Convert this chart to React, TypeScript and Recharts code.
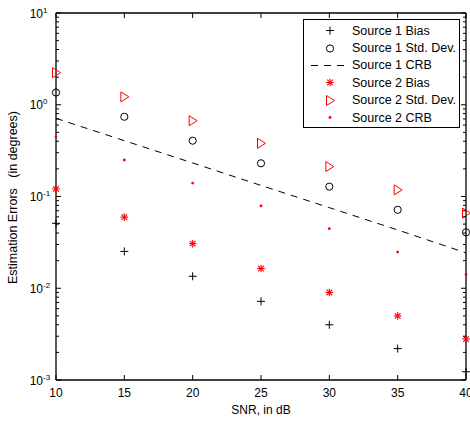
import {
  ComposedChart,
  Label,
  Legend,
  Line,
  Scatter,
  XAxis,
  YAxis,
} from "recharts";

const snr = [10, 15, 20, 25, 30, 35, 40];

// values (degrees)
const s1Bias = [0.051, 0.0252, 0.0135, 0.0072, 0.004, 0.0022, 0.00123];
const s1Std = [1.36, 0.74, 0.406, 0.23, 0.128, 0.0716, 0.0407];
const s1Crb = [0.711, 0.406, 0.232, 0.132, 0.0756, 0.0432, 0.0243];
const s2Bias = [0.121, 0.0596, 0.0306, 0.0164, 0.009, 0.005, 0.0028];
const s2Std = [2.24, 1.22, 0.67, 0.38, 0.212, 0.118, 0.066];
const s2Crb = [0.449, 0.25, 0.14, 0.079, 0.0446, 0.0248, 0.0141];

const xTicks = [10, 15, 20, 25, 30, 35, 40];
const decades = [0.001, 0.01, 0.1, 1, 10];
const yTicks = decades.flatMap((d, i) =>
  i === decades.length - 1 ? [d] : [1, 2, 3, 4, 5, 6, 7, 8, 9].map((m) => +(m * d).toPrecision(3))
);

const FONT = "'Liberation Sans', Arial, Helvetica, sans-serif";
const RED = "#ff0000";
const DASH = "7 6";

const data = snr.map((x, i) => ({
  snr: x,
  s1Bias: s1Bias[i],
  s1Std: s1Std[i],
  s1Crb: s1Crb[i],
  s2Bias: s2Bias[i],
  s2Std: s2Std[i],
  s2Crb: s2Crb[i],
}));

type Kind = "plus" | "circle" | "star" | "tri" | "dot";

function Marker({ kind, cx, cy }: { kind: Kind; cx: number; cy: number }) {
  if (kind === "plus")
    return (
      <g stroke="#000" strokeWidth={1}>
        <line x1={cx - 4} y1={cy} x2={cx + 4} y2={cy} />
        <line x1={cx} y1={cy - 4} x2={cx} y2={cy + 4} />
      </g>
    );
  if (kind === "circle")
    return <circle cx={cx} cy={cy} r={3.6} fill="none" stroke="#000" strokeWidth={1} />;
  if (kind === "star")
    return (
      <g stroke={RED} strokeWidth={1.1}>
        <line x1={cx - 3.8} y1={cy} x2={cx + 3.8} y2={cy} />
        <line x1={cx} y1={cy - 3.8} x2={cx} y2={cy + 3.8} />
        <line x1={cx - 2.8} y1={cy - 2.8} x2={cx + 2.8} y2={cy + 2.8} />
        <line x1={cx - 2.8} y1={cy + 2.8} x2={cx + 2.8} y2={cy - 2.8} />
      </g>
    );
  if (kind === "tri")
    return (
      <polygon
        points={`${cx - 3.5},${cy - 5} ${cx + 4.5},${cy} ${cx - 3.5},${cy + 5}`}
        fill="none"
        stroke={RED}
        strokeWidth={1}
      />
    );
  return <circle cx={cx} cy={cy} r={1.4} fill={RED} />;
}

const shape = (kind: Kind) => (p: any) => <Marker kind={kind} cx={p.cx} cy={p.cy} />;

function isDecade(v: number) {
  const k = Math.round(Math.log10(v));
  return Math.abs(v - Math.pow(10, k)) / v < 1e-6;
}

function LeftTick(p: any) {
  const { x, y, payload } = p;
  const v = payload.value;
  const major = isDecade(v);
  const k = Math.round(Math.log10(v));
  return (
    <g>
      <line x1={x} y1={y} x2={x + (major ? 5 : 3)} y2={y} stroke="#000" />
      {major && (
        <text fontFamily={FONT} fill="#000">
          <tspan x={x - 13} y={y + 4.5} fontSize={12} textAnchor="end">
            10
          </tspan>
          <tspan x={x - 13} y={y - 0.5} fontSize={8} textAnchor="start">
            {k}
          </tspan>
        </text>
      )}
    </g>
  );
}

function RightTick(p: any) {
  const { x, y, payload } = p;
  const major = isDecade(payload.value);
  return <line x1={x} y1={y} x2={x - (major ? 5 : 3)} y2={y} stroke="#000" />;
}

function BottomTick(p: any) {
  const { x, y, payload } = p;
  return (
    <g>
      <line x1={x} y1={y} x2={x} y2={y - 5} stroke="#000" />
      <text x={x} y={y + 17} textAnchor="middle" fontSize={12} fontFamily={FONT} fill="#000">
        {payload.value}
      </text>
    </g>
  );
}

function TopTick(p: any) {
  const { x, y } = p;
  return <line x1={x} y1={y} x2={x} y2={y + 5} stroke="#000" />;
}

const legendItems: Array<{ label: string; kind: Kind | "dash" }> = [
  { label: "Source 1 Bias", kind: "plus" },
  { label: "Source 1 Std. Dev.", kind: "circle" },
  { label: "Source 1 CRB", kind: "dash" },
  { label: "Source 2 Bias", kind: "star" },
  { label: "Source 2 Std. Dev.", kind: "tri" },
  { label: "Source 2 CRB", kind: "dot" },
];

function LegendBox() {
  return (
    <div
      style={{
        width: 157,
        height: 109,
        boxSizing: "border-box",
        border: "1px solid #000",
        background: "#fff",
        paddingTop: 2,
        fontFamily: FONT,
        fontSize: 12.5,
        color: "#000",
      }}
    >
      {legendItems.map((it) => (
        <div key={it.label} style={{ display: "flex", alignItems: "center", height: 17.4 }}>
          <svg width={48} height={17} style={{ display: "block" }}>
            {it.kind === "dash" ? (
              <line x1={7} y1={8.5} x2={46} y2={8.5} stroke="#000" strokeDasharray={DASH} />
            ) : (
              <Marker kind={it.kind} cx={26} cy={8.5} />
            )}
          </svg>
          <span style={{ whiteSpace: "nowrap" }}>{it.label}</span>
        </div>
      ))}
    </div>
  );
}

export default function App() {
  return (
    <div style={{ position: "absolute", left: 0, top: 0, background: "#fff" }}>
      <ComposedChart
        width={470}
        height={423}
        data={data}
        margin={{ top: 12, right: 0, bottom: 0, left: 0 }}
      >
        <XAxis
          xAxisId="b"
          dataKey="snr"
          type="number"
          domain={[10, 40]}
          ticks={xTicks}
          interval={0}
          height={43}
          tickLine={false}
          tickSize={0}
          tickMargin={0}
          tick={BottomTick}
          axisLine={{ stroke: "#000", strokeWidth: 1.3 }}
        >
          <Label
            content={(p: any) => (
              <text
                x={p.viewBox.x + p.viewBox.width / 2}
                y={414}
                textAnchor="middle"
                fontSize={12}
                fontFamily={FONT}
                fill="#000"
              >
                SNR, in dB
              </text>
            )}
          />
        </XAxis>
        <XAxis
          xAxisId="t"
          orientation="top"
          dataKey="snr"
          type="number"
          domain={[10, 40]}
          ticks={xTicks}
          interval={0}
          height={1}
          tickLine={false}
          tickSize={0}
          tickMargin={0}
          tick={TopTick}
          axisLine={{ stroke: "#000", strokeWidth: 1.3 }}
        />
        <YAxis
          yAxisId="l"
          type="number"
          scale="log"
          domain={[0.001, 10]}
          allowDataOverflow
          ticks={yTicks}
          interval={0}
          width={56}
          tickLine={false}
          tickSize={0}
          tickMargin={0}
          tick={LeftTick}
          axisLine={{ stroke: "#000", strokeWidth: 1.3 }}
        >
          <Label
            content={(p: any) => {
              const cy = p.viewBox.y + p.viewBox.height / 2 + 1;
              return (
                <text
                  x={17}
                  y={cy}
                  transform={`rotate(-90 17 ${cy})`}
                  textAnchor="middle"
                  fontSize={12.5}
                  fontFamily={FONT}
                  fill="#000"
                  style={{ whiteSpace: "pre" }}
                >
                  {"Estimation Errors   (in degrees)"}
                </text>
              );
            }}
          />
        </YAxis>
        <YAxis
          yAxisId="r"
          orientation="right"
          type="number"
          scale="log"
          domain={[0.001, 10]}
          allowDataOverflow
          ticks={yTicks}
          interval={0}
          width={4}
          tickLine={false}
          tickSize={0}
          tickMargin={0}
          tick={RightTick}
          axisLine={{ stroke: "#000", strokeWidth: 1.3 }}
        />
        <Line
          xAxisId="b"
          yAxisId="l"
          dataKey="s1Crb"
          stroke="#000"
          strokeWidth={1}
          strokeDasharray={DASH}
          dot={false}
          activeDot={false}
          isAnimationActive={false}
        />
        <Scatter xAxisId="b" yAxisId="l" dataKey="s1Bias" shape={shape("plus")} isAnimationActive={false} />
        <Scatter xAxisId="b" yAxisId="l" dataKey="s1Std" shape={shape("circle")} isAnimationActive={false} />
        <Scatter xAxisId="b" yAxisId="l" dataKey="s2Bias" shape={shape("star")} isAnimationActive={false} />
        <Scatter xAxisId="b" yAxisId="l" dataKey="s2Std" shape={shape("tri")} isAnimationActive={false} />
        <Scatter xAxisId="b" yAxisId="l" dataKey="s2Crb" shape={shape("dot")} isAnimationActive={false} />
        <Legend
          layout="horizontal"
          verticalAlign="middle"
          align="center"
          content={() => <LegendBox />}
          wrapperStyle={{ position: "absolute", left: 303, top: 19, width: 157, height: 109 }}
        />
      </ComposedChart>
    </div>
  );
}
